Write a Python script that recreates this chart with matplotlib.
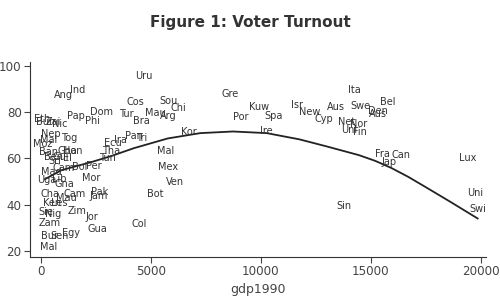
import numpy as np
import matplotlib
matplotlib.use("Agg")
import matplotlib.pyplot as plt

countries = ["Uru", "Ang", "Ind", "Cos", "Sou", "Chi", "Mau", "Arg", "Tur", "Bra",
             "Dom", "Pap", "Phi", "Eth", "Bur", "Zai", "Nic", "Nep", "Tog", "Mal",
             "Moz", "Ban", "Gha", "Hon", "Ben", "Gui", "El", "Sri", "Mad", "Cam",
             "Bol", "Per", "Mor", "Uga", "Lib", "Gna", "Cha", "Cam", "Mau", "Pak",
             "Jam", "Bot", "Ken", "Les", "Sie", "Nig", "Zim", "Jor", "Zam", "Gua",
             "Bur", "Sen", "Egy", "Mal", "Col", "Ven", "Mex", "Mal", "Kor", "Pan",
             "Tri", "Ecu", "Ira", "Tha", "Tun", "Gre", "Por", "Kuw", "Spa", "Ire",
             "Isr", "New", "Aus", "Cyp", "Ita", "Swe", "Den", "Aus", "Bel", "Net",
             "Nor", "Uni", "Fin", "Fra", "Can", "Jap", "Lux", "Sin", "Uni", "Swi"]

gdp1990 = [4670, 1020, 1650, 4270, 5800, 6250, 5210, 5800, 3860, 4580,
           2740, 1560, 2330, 40, 170, 570, 840, 440, 1250, 350,
           80, 350, 1200, 1430, 570, 890, 1200, 620, 480, 1020,
           1740, 2380, 2290, 260, 840, 1070, 390, 1520, 1160, 2650,
           2600, 5210, 480, 800, 210, 530, 1610, 2290, 390, 2560,
           390, 840, 1340, 350, 4450, 6070, 5760, 5670, 6700, 4220,
           4580, 3280, 3590, 3190, 3010, 8600, 9090, 9900, 10580, 10260,
           11660, 12200, 13420, 12880, 14270, 14540, 15310, 15310, 15760, 13910,
           14450, 14000, 14500, 15540, 16350, 15810, 19410, 13780, 19730, 19860]

turnout = [95.5, 87.3, 89.5, 84.3, 84.7, 81.7, 79.5, 78.3, 79.1, 76.1,
           80.0, 78.3, 76.1, 77.0, 75.7, 75.7, 74.8, 70.5, 68.7, 67.9,
           66.1, 62.7, 63.1, 63.1, 60.5, 60.5, 60.1, 58.8, 54.0, 55.8,
           56.2, 56.6, 51.4, 50.6, 51.0, 48.8, 44.5, 44.5, 42.8, 45.4,
           43.6, 44.5, 40.6, 40.6, 36.7, 35.9, 37.2, 34.6, 32.0, 29.4,
           26.4, 26.4, 27.7, 21.6, 31.6, 49.7, 56.2, 63.1, 71.3, 69.6,
           68.7, 66.6, 67.9, 63.1, 60.1, 87.8, 77.8, 82.1, 78.3, 71.8,
           83.0, 80.0, 82.1, 77.0, 89.5, 82.6, 80.4, 79.1, 84.3, 75.7,
           74.8, 72.2, 71.3, 61.8, 61.4, 58.4, 60.1, 39.3, 44.9, 38.0]

# quadratic fit line
fit_gdp = [170, 930, 2290, 3190, 4220, 5760, 7240, 8730, 10260,
           11750, 12970, 14450, 15200, 15940, 16700, 17470, 18600, 19860]
fit_turnout = [51.0, 54.9, 58.4, 61.0, 64.4, 68.6, 70.9, 71.6, 70.9,
               68.2, 65.2, 61.4, 58.9, 55.8, 52.0, 47.7, 41.3, 34.0]

fig = plt.figure(figsize=(5, 3), dpi=100)
ax = fig.add_axes([0.06, 0.143, 0.912, 0.65])

for name, xi, yi in zip(countries, gdp1990, turnout):
    ax.text(xi, yi, name, fontsize=7, color="#333333", ha="center", va="center")

ax.plot(fit_gdp, fit_turnout, color="#222222", lw=1.3)

ax.set_xlim(-510, 20240)
ax.set_ylim(17.3, 101.6)
ax.set_xticks([0, 5000, 10000, 15000, 20000])
ax.set_yticks([20, 40, 60, 80, 100])
ax.spines["top"].set_visible(False)
ax.spines["right"].set_visible(False)
ax.spines["left"].set_color("#333333")
ax.spines["bottom"].set_color("#333333")
ax.tick_params(labelsize=8.6, colors="#444444", length=4, pad=2)
ax.set_xlabel("gdp1990", fontsize=9, color="#444444", labelpad=3)

fig.text(0.5, 0.925, "Figure 1: Voter Turnout", ha="center", va="center",
         fontsize=11, fontweight="bold", color="#333333")

fig.savefig("out.png", dpi=100, facecolor="white")
